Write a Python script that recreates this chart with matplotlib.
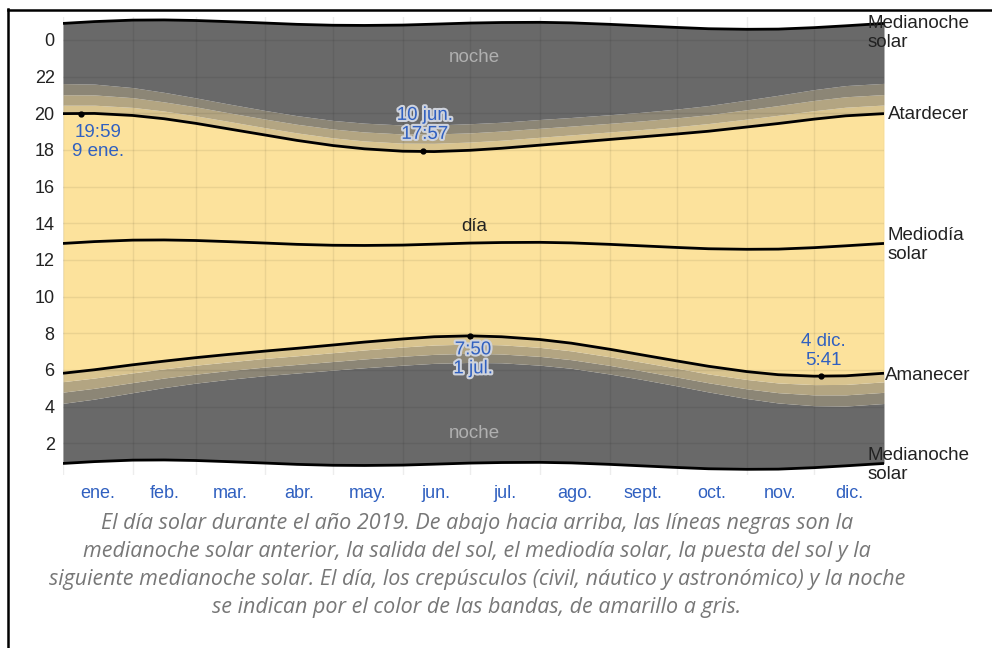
#!/usr/bin/env python3
"""solar day chart for 2019 (weatherspark style)"""

import numpy as np
import matplotlib.pyplot as plt
import matplotlib.patheffects as pe
from matplotlib.lines import Line2D

plt.rcParams["font.family"] = ["Liberation Sans", "DejaVu Sans"]

#
# DATA (hours of the day, sampled on the 1st and 15th of each month)
#
days = [0, 14, 31, 45, 59, 73, 90, 104, 120, 134, 151, 165, 181, 195, 212, 226, 243, 257, 273, 287, 304, 318, 334, 348, 365]

noon = [12.90, 13.00, 13.08, 13.09, 13.06, 13.00, 12.92, 12.85, 12.80, 12.79, 12.81, 12.86, 12.92,
        12.95, 12.96, 12.93, 12.85, 12.77, 12.68, 12.61, 12.58, 12.59, 12.67, 12.77, 12.90]
sunrise = [5.82, 6.01, 6.28, 6.48, 6.67, 6.84, 7.03, 7.18, 7.36, 7.52, 7.69, 7.81, 7.86,
           7.81, 7.66, 7.46, 7.13, 6.83, 6.49, 6.20, 5.91, 5.74, 5.66, 5.68, 5.82]
sunset = [19.98, 19.99, 19.88, 19.70, 19.45, 19.16, 18.81, 18.52, 18.24, 18.06, 17.93, 17.91, 17.98,
          18.09, 18.26, 18.40, 18.57, 18.71, 18.87, 19.02, 19.25, 19.44, 19.68, 19.86, 19.98]
civil_dawn = [5.36, 5.56, 5.84, 6.06, 6.26, 6.43, 6.63, 6.77, 6.94, 7.09, 7.25, 7.36, 7.41,
              7.37, 7.23, 7.04, 6.72, 6.43, 6.09, 5.78, 5.48, 5.29, 5.20, 5.21, 5.35]
civil_dusk = [20.44, 20.44, 20.32, 20.12, 19.86, 19.57, 19.21, 18.93, 18.66, 18.49, 18.37, 18.36, 18.43,
              18.53, 18.69, 18.82, 18.98, 19.11, 19.27, 19.44, 19.68, 19.89, 20.14, 20.33, 20.45]
naut_dawn = [4.79, 5.00, 5.31, 5.56, 5.77, 5.96, 6.16, 6.30, 6.46, 6.60, 6.75, 6.85, 6.91,
             6.87, 6.74, 6.56, 6.25, 5.96, 5.61, 5.30, 4.97, 4.76, 4.64, 4.64, 4.78]
naut_dusk = [21.01, 21.00, 20.85, 20.62, 20.35, 20.04, 19.68, 19.40, 19.14, 18.98, 18.87, 18.87, 18.93,
             19.03, 19.18, 19.30, 19.45, 19.58, 19.75, 19.92, 20.19, 20.42, 20.70, 20.90, 21.02]
astro_dawn = [4.18, 4.41, 4.76, 5.04, 5.28, 5.48, 5.69, 5.83, 5.99, 6.12, 6.26, 6.36, 6.41,
              6.39, 6.26, 6.09, 5.78, 5.49, 5.13, 4.80, 4.44, 4.20, 4.05, 4.03, 4.17]
astro_dusk = [21.62, 21.59, 21.40, 21.14, 20.84, 20.52, 20.15, 19.87, 19.61, 19.46, 19.36, 19.36, 19.43,
              19.51, 19.66, 19.77, 19.92, 20.05, 20.23, 20.42, 20.72, 20.98, 21.29, 21.51, 21.63]

month_starts = [0, 31, 59, 90, 120, 151, 181, 212, 243, 273, 304, 334, 365]
month_labels = ["ene.", "feb.", "mar.", "abr.", "may.", "jun.", "jul.", "ago.", "sept.", "oct.", "nov.", "dic."]

# extremes marked on the chart
mark_days = [8, 160, 181, 337]
mark_hours = [19.98, 17.95, 7.83, 5.68]
mark_texts = ["19:59\n9 ene.", "10 jun.\n17:57", "7:50\n1 jul.", "4 dic.\n5:41"]

caption = [
    "El día solar durante el año 2019. De abajo hacia arriba, las líneas negras son la",
    "medianoche solar anterior, la salida del sol, el mediodía solar, la puesta del sol y la",
    "siguiente medianoche solar. El día, los crepúsculos (civil, náutico y astronómico) y la noche",
    "se indican por el color de las bandas, de amarillo a gris.",
]

#
# colours
#
DAY = "#fce29c"
CIVIL = "#d9c48f"
NAUT = "#b3a582"
ASTRO = "#8c8676"
NIGHT = "#696969"
BLUE = "#3060c0"

W, H = 992, 648
fig = plt.figure(figsize=(W / 100, H / 100), dpi=100)
ax = fig.add_axes([63 / W, 1 - 475 / H, (884 - 63) / W, (475 - 17) / H])

midnight_prev = np.array(noon) - 12
midnight_next = np.array(noon) + 12

bands = [
    (midnight_prev, astro_dawn, NIGHT),
    (astro_dawn, naut_dawn, ASTRO),
    (naut_dawn, civil_dawn, NAUT),
    (civil_dawn, sunrise, CIVIL),
    (sunrise, sunset, DAY),
    (sunset, civil_dusk, CIVIL),
    (civil_dusk, naut_dusk, NAUT),
    (naut_dusk, astro_dusk, ASTRO),
    (astro_dusk, midnight_next, NIGHT),
]
for lo, hi, c in bands:
    ax.fill_between(days, lo, hi, color=c, lw=0, zorder=1)

for curve in [midnight_prev, sunrise, noon, sunset, midnight_next]:
    ax.plot(days, curve, color="black", lw=2, zorder=3, solid_capstyle="butt")

ax.plot(mark_days, mark_hours, "o", color="black", ms=3.5, zorder=4)

# labels sitting on the dark bands get a light halo
halo = [pe.withStroke(linewidth=3, foreground="#cfd3dc")]
offsets = [(17, -10, "top", []), (2, 8, "bottom", halo), (3, -5, "top", halo), (2, 7, "bottom", [])]
for d, h, t, (dx, dy, va, fx) in zip(mark_days, mark_hours, mark_texts, offsets):
    ax.annotate(t, (d, h), xytext=(dx, dy), textcoords="offset pixels", ha="center", va=va,
                color=BLUE, fontsize=13.5, linespacing=1.15, path_effects=fx, zorder=5)

ax.text(183, 23.05, "noche", color="#b0b0b0", fontsize=13.5, ha="center", va="center", zorder=5)
ax.text(183, 2.56, "noche", color="#b0b0b0", fontsize=13.5, ha="center", va="center", zorder=5)
ax.text(183, 13.8, "día", color="#222222", fontsize=13.5, ha="center", va="center", zorder=5)

# right side labels
right = [
    (357.8, 24.38, "Medianoche\nsolar"),
    (366.7, 19.91, "Atardecer"),
    (366.7, 12.84, "Mediodía\nsolar"),
    (365.3, 5.72, "Amanecer"),
    (357.8, 0.79, "Medianoche\nsolar"),
]
for x, y, t in right:
    ax.text(x, y, t, color="#222222", fontsize=13.5, ha="left", va="center", linespacing=1.15,
            clip_on=False, zorder=6)

ax.set_xlim(0, 365)
ax.set_ylim(0.27, 25.25)

ax.set_xticks(month_starts)
ax.set_xticklabels([])
mids = [(a + b) / 2 for a, b in zip(month_starts[:-1], month_starts[1:])]
ax.set_xticks(mids, minor=True)
ax.set_xticklabels(month_labels, minor=True, color=BLUE, fontsize=13)

yt = list(range(2, 25, 2))
ax.set_yticks(yt)
ax.set_yticklabels([str(v % 24) for v in yt], fontsize=13, color="#222222")

ax.tick_params(which="both", length=0)
ax.tick_params(axis="x", which="minor", pad=7)
ax.tick_params(axis="y", pad=6)
ax.grid(True, which="major", color="black", alpha=0.07, lw=1)
ax.set_axisbelow(False)
for s in ax.spines.values():
    s.set_visible(False)

for i, line in enumerate(caption):
    fig.text(477 / W, 1 - (523 + 28 * i) / H, line, ha="center", va="center", color="#777777",
             fontsize=15.5, style="italic", family=["Open Sans", "DejaVu Sans"])

# frame
fig.add_artist(Line2D([8 / W, 8 / W], [0, 1 - 9 / H], color="black", lw=1.8, transform=fig.transFigure))
fig.add_artist(Line2D([8 / W, 1], [1 - 10 / H, 1 - 10 / H], color="black", lw=1.8, transform=fig.transFigure))

fig.savefig("out.png", dpi=100)
